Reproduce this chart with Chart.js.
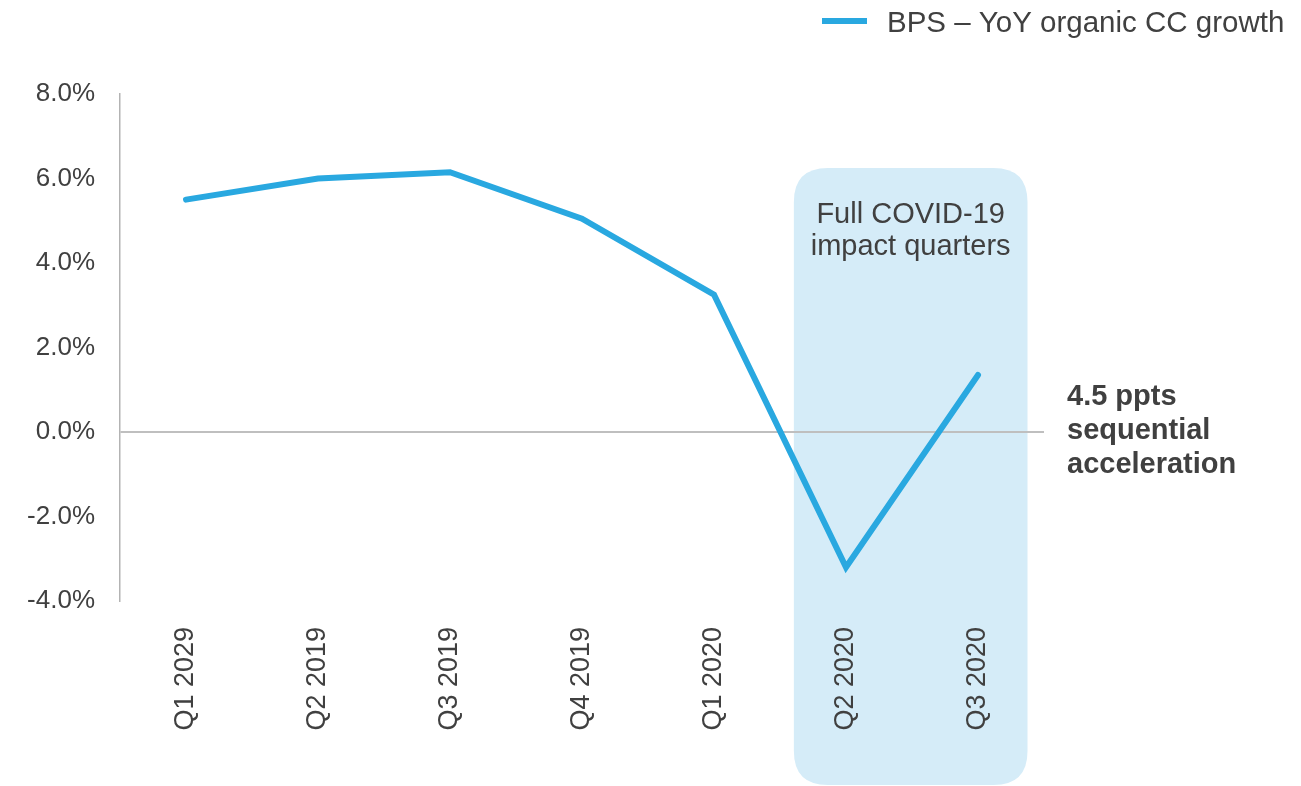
<!DOCTYPE html>
<html>
<head>
<meta charset="utf-8">
<script src="https://cdn.jsdelivr.net/npm/chart.js@4.4.1/dist/chart.umd.min.js"></script>
<style>
  html, body { margin: 0; padding: 0; background: #ffffff; }
  #wrap { position: relative; width: 1301px; height: 786px; }
</style>
</head>
<body>
<div id="wrap"><canvas id="c" width="1301" height="786"></canvas></div>
<script>
const categories = ['Q1 2029', 'Q2 2019', 'Q3 2019', 'Q4 2019', 'Q1 2020', 'Q2 2020', 'Q3 2020'];
const growthValues = [5.5, 6.0, 6.15, 5.05, 3.25, -3.2, 1.35];
const seriesLabel = 'BPS \u2013 YoY organic CC growth';
const yTicks = [-4, -2, 0, 2, 4, 6, 8];
const highlightCategories = ['Q2 2020', 'Q3 2020'];
const highlightLabel = ['Full COVID-19', 'impact quarters'];
const calloutLines = ['4.5 ppts', 'sequential', 'acceleration'];

const LINE_COLOR = '#29a8e0';
const TEXT_COLOR = '#404040';
const FONT = '"Liberation Sans", Arial, Helvetica, sans-serif';

const highlightPlugin = {
  id: 'highlight',
  beforeDraw(chart) {
    const ctx = chart.ctx;
    const xs = chart.scales.x, ys = chart.scales.y;
    const i0 = categories.indexOf(highlightCategories[0]);
    const i1 = categories.indexOf(highlightCategories[1]);
    const step = xs.getPixelForValue(1) - xs.getPixelForValue(0);
    const left = xs.getPixelForValue(i0) - step * 0.395;
    const right = xs.getPixelForValue(i1) + step * 0.375;
    const top = ys.getPixelForValue(6.25);
    const bottom = chart.height - 1;
    const r = 34;
    ctx.save();
    ctx.fillStyle = '#d5ecf8';
    ctx.beginPath();
    ctx.moveTo(left + r, top);
    ctx.lineTo(right - r, top);
    ctx.quadraticCurveTo(right, top, right, top + r);
    ctx.lineTo(right, bottom - r);
    ctx.quadraticCurveTo(right, bottom, right - r, bottom);
    ctx.lineTo(left + r, bottom);
    ctx.quadraticCurveTo(left, bottom, left, bottom - r);
    ctx.lineTo(left, top + r);
    ctx.quadraticCurveTo(left, top, left + r, top);
    ctx.closePath();
    ctx.fill();
    ctx.fillStyle = TEXT_COLOR;
    ctx.font = '29px ' + FONT;
    ctx.textAlign = 'center';
    ctx.textBaseline = 'alphabetic';
    const cx = (left + right) / 2;
    ctx.fillText(highlightLabel[0], cx, top + 55);
    ctx.fillText(highlightLabel[1], cx, top + 87);
    ctx.restore();
  },
  afterDraw(chart) {
    const ctx = chart.ctx;
    const xs = chart.scales.x, ys = chart.scales.y;
    ctx.save();
    ctx.strokeStyle = LINE_COLOR;
    ctx.lineWidth = 6;
    ctx.lineCap = 'butt';
    ctx.beginPath();
    ctx.moveTo(822, 21);
    ctx.lineTo(867, 21);
    ctx.stroke();
    ctx.fillStyle = TEXT_COLOR;
    ctx.font = '29.5px ' + FONT;
    ctx.textAlign = 'left';
    ctx.textBaseline = 'alphabetic';
    ctx.fillText(chart.data.datasets[0].label, 887, 32);
    ctx.font = 'bold 29px ' + FONT;
    const x0 = xs.right + 23;
    const y0 = ys.getPixelForValue(0);
    ctx.fillText(calloutLines[0], x0, y0 - 27);
    ctx.fillText(calloutLines[1], x0, y0 + 7);
    ctx.fillText(calloutLines[2], x0, y0 + 41);
    ctx.restore();
  }
};

new Chart(document.getElementById('c'), {
  type: 'line',
  data: {
    labels: categories,
    datasets: [{
      label: seriesLabel,
      data: growthValues,
      borderColor: LINE_COLOR,
      backgroundColor: LINE_COLOR,
      borderWidth: 6,
      borderCapStyle: 'round',
      borderJoinStyle: 'miter',
      pointRadius: 0,
      pointHoverRadius: 0,
      tension: 0,
      fill: false
    }]
  },
  options: {
    responsive: false,
    animation: false,
    devicePixelRatio: 1,
    layout: { padding: { left: 0, right: 257, top: 94, bottom: 0 } },
    plugins: {
      legend: { display: false },
      tooltip: { enabled: false }
    },
    scales: {
      x: {
        type: 'category',
        offset: true,
        grid: { display: false, drawTicks: false },
        border: { display: false },
        ticks: {
          color: TEXT_COLOR,
          font: { family: FONT, size: 27 },
          maxRotation: 90,
          minRotation: 90,
          padding: 26,
          autoSkip: false
        },
        afterFit(scale) { scale.height = 185; }
      },
      y: {
        min: -4,
        max: 8,
        afterBuildTicks(scale) { scale.ticks = yTicks.map(v => ({ value: v })); },
        grid: {
          drawTicks: false,
          color: ctx => (ctx.tick && ctx.tick.value === 0) ? '#bfbfbf' : 'rgba(0,0,0,0)',
          lineWidth: 2
        },
        border: { display: true, color: '#b3b3b3', width: 1.5 },
        ticks: {
          color: TEXT_COLOR,
          font: { family: FONT, size: 26 },
          padding: 25,
          callback: v => Number(v).toFixed(1) + '%'
        },
        afterFit(scale) { scale.width = 120; }
      }
    }
  },
  plugins: [highlightPlugin]
});
</script>
</body>
</html>
